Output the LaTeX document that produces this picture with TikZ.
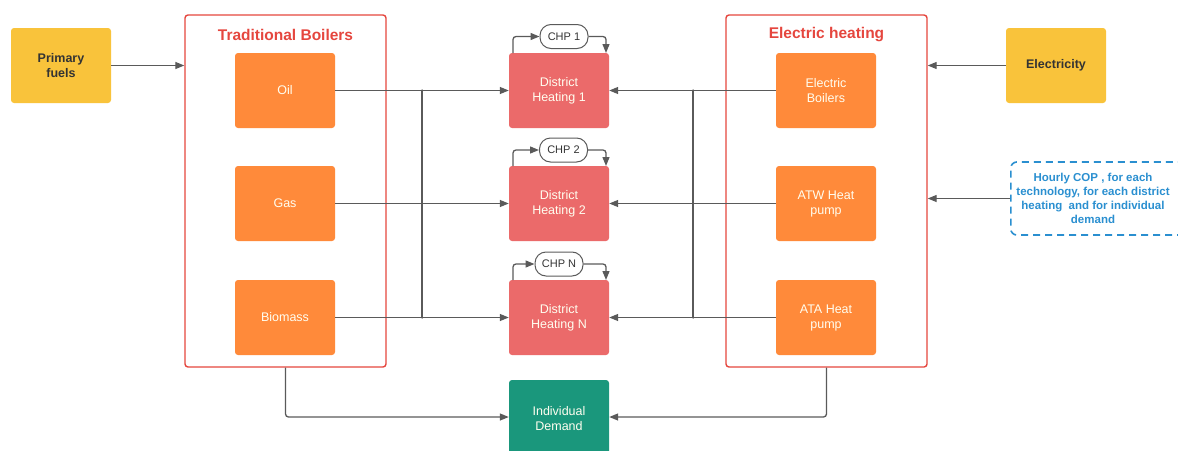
\documentclass[tikz,border=0pt]{standalone}
\usepackage{fontspec}
\setmainfont{Liberation Sans}
\usetikzlibrary{arrows.meta,positioning}
\definecolor{yel}{HTML}{F9C33B}
\definecolor{org}{HTML}{FF8A3A}
\definecolor{dhred}{HTML}{EB6A6A}
\definecolor{teal}{HTML}{1A977C}
\definecolor{frred}{HTML}{E5463E}
\definecolor{dtext}{HTML}{333333}
\definecolor{lgrey}{HTML}{5A5A5A}
\definecolor{cblue}{HTML}{2A8FD0}
\tikzset{
  box/.style={rounded corners=3pt, minimum width=100pt, minimum height=75pt, align=center, font=\fontsize{12.5}{15}\selectfont, text=white!94!yellow, inner sep=0pt},
  yelbox/.style={box, fill=yel, text=dtext, font=\bfseries\fontsize{12.5}{15}\selectfont},
  orgbox/.style={box, fill=org},
  dhbox/.style={box, fill=dhred},
  frame/.style={draw=frred, line width=1.4pt, rounded corners=3pt, minimum width=201pt, minimum height=352pt, inner sep=0pt},
  frtitle/.style={text=frred, font=\bfseries\fontsize{15.5}{18}\selectfont},
  chp/.style={draw=lgrey, line width=1pt, rounded corners=11pt, minimum width=48pt, minimum height=24pt, inner sep=0pt, text=dtext, font=\fontsize{11}{13}\selectfont},
  conn/.style={draw=lgrey, line width=1.3pt, -{Triangle[length=9pt,width=7pt]}},
  plain/.style={draw=lgrey, line width=1.2pt},
  jdot/.style={circle, fill=lgrey, inner sep=0pt, minimum size=2.5pt}
}
\begin{document}
\begin{tikzpicture}[x=1pt,y=-1pt]
\useasboundingbox (0,0) rectangle (1178,450);
\clip (0,0) rectangle (1178,450);
% frames
\node[frame] (tb) at (285.5,191) {};
\node[frtitle] (tbt) at (285.5,35) {Traditional Boilers};
\node[frame] (eh) at (826.5,191) {};
\node[frtitle] (eht) at (826.5,35) {Electric heating};
% inputs
\node[yelbox] (pf) at (61,65.5) {Primary\\fuels};
\node[yelbox] (el) at (1056,65.5) {Electricity};
\node[draw=cblue, dashed, dash pattern=on 7pt off 5pt, line width=1.6pt, rounded corners=6pt, minimum width=180pt, minimum height=73pt, anchor=west, inner sep=0pt] (cop) at (1010,198.5) {};
\node[text=cblue, align=center, font=\bfseries\fontsize{11.5}{14}\selectfont] (copt) at (1093,198) {Hourly COP , for each\\technology, for each district\\heating\ \ and for individual\\demand};
% boilers
\node[orgbox] (oil) at (285,90.5) {Oil};
\node[orgbox] (gas) at (285,203.5) {Gas};
\node[orgbox] (bio) at (285,317.5) {Biomass};
\node[orgbox] (eb) at (826,90.5) {Electric\\Boilers};
\node[orgbox] (atw) at (826,203.5) {ATW Heat\\pump};
\node[orgbox] (ata) at (826,317.5) {ATA Heat\\pump};
% district heating
\node[dhbox] (dh1) at (559,90.5) {District\\Heating 1};
\node[dhbox] (dh2) at (559,203.5) {District\\Heating 2};
\node[dhbox] (dhn) at (559,317.5) {District\\Heating N};
\node[box, fill=teal, minimum height=78pt] (ind) at (559,419) {Individual\\Demand};
% CHP
\node[chp] (c1) at (564,36.5) {CHP 1};
\node[chp] (c2) at (563.5,150) {CHP 2};
\node[chp] (cn) at (559,264) {CHP N};
% input arrows
\draw[conn] (pf.east) -- (tb.west |- pf.east);
\draw[conn] (el.west) -- (eh.east |- el.west);
\draw[conn] (cop.west) -- (eh.east |- cop.west);
% buses
\coordinate (lb1) at (422,90.5);
\coordinate (lb3) at (422,317.5);
\coordinate (rb1) at (693,90.5);
\coordinate (rb3) at (693,317.5);
\draw[plain] (lb1) -- (lb3);
\draw[plain] (rb1) -- (rb3);
\node[jdot] (j1) at (422,90.5) {};
\node[jdot] (j2) at (422,203.5) {};
\node[jdot] (j3) at (422,317.5) {};
\node[jdot] (j4) at (693,90.5) {};
\node[jdot] (j5) at (693,203.5) {};
\node[jdot] (j6) at (693,317.5) {};
\draw[conn] (oil.east) -- (dh1.west);
\draw[conn] (gas.east) -- (dh2.west);
\draw[conn] (bio.east) -- (dhn.west);
\draw[conn] (eb.west) -- (dh1.east);
\draw[conn] (atw.west) -- (dh2.east);
\draw[conn] (ata.west) -- (dhn.east);
% CHP loops
\draw[conn, rounded corners=3pt] (513,53) |- (c1.west);
\draw[conn, rounded corners=3pt] (c1.east) -| (606,53);
\draw[conn, rounded corners=3pt] (513,166) |- (c2.west);
\draw[conn, rounded corners=3pt] (c2.east) -| (606,166);
\draw[conn, rounded corners=3pt] (513,280) |- (cn.west);
\draw[conn, rounded corners=3pt] (cn.east) -| (606,280);
% individual demand
\draw[conn, rounded corners=3pt] (tb.south) |- (ind.west |- 0,417);
\draw[conn, rounded corners=3pt] (eh.south) |- (ind.east |- 0,417);
\end{tikzpicture}
\end{document}
